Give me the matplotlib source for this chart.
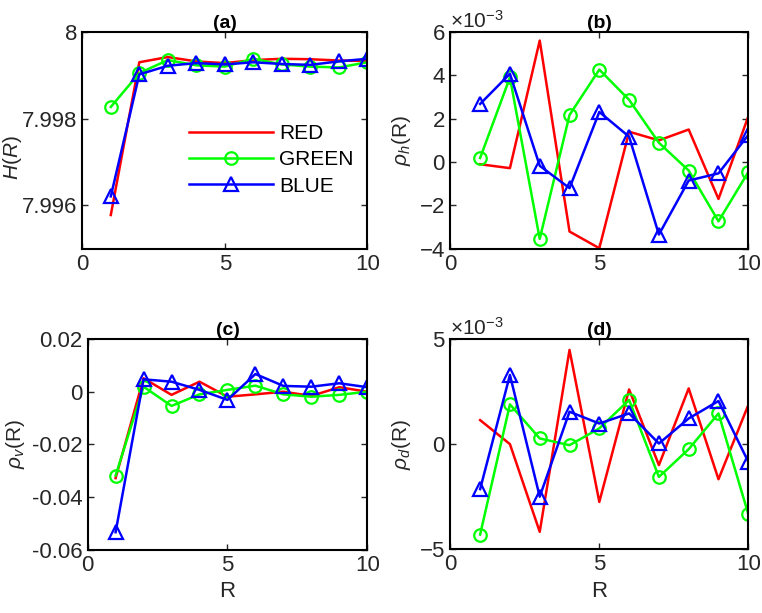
import matplotlib
matplotlib.use('Agg')
import matplotlib.pyplot as plt
from matplotlib.ticker import ScalarFormatter

plt.rcParams['font.family'] = ['Liberation Sans', 'DejaVu Sans']
plt.rcParams['mathtext.fontset'] = 'custom'
plt.rcParams['mathtext.rm'] = 'Liberation Sans'
plt.rcParams['mathtext.it'] = 'Liberation Sans:italic'
plt.rcParams['axes.unicode_minus'] = False

# lag distance R
R = [1, 2, 3, 4, 5, 6, 7, 8, 9, 10]

# (a) entropy H(R)
H_red = [7.99578, 7.99930, 7.99942, 7.99932, 7.99928, 7.99935, 7.99938, 7.99937, 7.99934, 7.99933]
H_green = [7.99827, 7.99905, 7.99935, 7.99923, 7.99920, 7.99938, 7.99925, 7.99920, 7.99918, 7.99930]
H_blue = [7.99621, 7.99902, 7.99922, 7.99928, 7.99925, 7.99930, 7.99926, 7.99924, 7.99932, 7.99938]

# (b) horizontal correlation (x1e-3)
h_red = [-0.1, -0.28, 5.6, -3.2, -3.97, 1.4, 1.0, 1.5, -1.7, 2.1]
h_green = [0.19, 3.9, -3.54, 2.17, 4.26, 2.87, 0.89, -0.39, -2.73, -0.46]
h_blue = [2.68, 4.07, -0.17, -1.2, 2.31, 1.17, -3.34, -0.85, -0.52, 1.25]

# (c) vertical correlation
v_red = [-0.0328, 0.0051, -0.0012, 0.0038, -0.0019, -0.0010, 0.0, -0.0016, 0.0017, 0.0]
v_green = [-0.0318, 0.0019, -0.0054, -0.0010, 0.0007, 0.0023, -0.0010, -0.0019, -0.0012, 0.0]
v_blue = [-0.0533, 0.0047, 0.0038, 0.0007, -0.0031, 0.0067, 0.0022, 0.0019, 0.0032, 0.0017]

# (d) diagonal correlation (x1e-3)
d_red = [1.14, 0.0, -4.17, 4.48, -2.75, 2.6, -1.0, 2.65, -1.67, 1.86]
d_green = [-4.3, 1.89, 0.27, -0.05, 0.75, 2.1, -1.56, -0.24, 1.46, -3.33]
d_blue = [-2.14, 3.29, -2.5, 1.54, 0.98, 1.46, 0.03, 1.22, 2.05, -0.84]

fig = plt.figure(figsize=(7.62, 6.13), dpi=100)
axa = fig.add_axes([0.108, 0.594, 0.374, 0.354])
axb = fig.add_axes([0.591, 0.594, 0.391, 0.354])
axc = fig.add_axes([0.115, 0.103, 0.367, 0.344])
axd = fig.add_axes([0.591, 0.104, 0.391, 0.343])

gray = '#262626'
ms = 9
lw = 1.8

def draw(ax, r, g, b, scale=1.0):
    ax.plot(R, [v * scale for v in r], color='#ff0000', lw=lw, label='RED')
    ax.plot(R, [v * scale for v in g], color='#00ff00', lw=lw, marker='o', ms=ms,
            mfc='none', mew=1.6, label='GREEN')
    ax.plot(R, [v * scale for v in b], color='#0000ff', lw=lw, marker='^', ms=ms + 1,
            mfc='none', mew=1.6, label='BLUE')
    ax.set_xlim(0, 10)
    ax.set_xticks([0, 5, 10])
    ax.tick_params(direction='in', top=True, right=True, labelsize=16,
                   colors=gray, length=4, width=1)
    for s in ax.spines.values():
        s.set_linewidth(1.5)
        s.set_color('black')

draw(axa, H_red, H_green, H_blue)
axa.set_ylim(7.995, 8.0)
axa.set_yticks([7.996, 7.998, 8.0])
axa.set_yticklabels(['7.996', '7.998', '8'])
axa.set_ylabel('$H(R)$', fontsize=15, color=gray)
axa.yaxis.set_label_coords(-0.205, 0.42)
axa.set_title('(a)', fontsize=14, fontweight='bold', pad=3)
axa.legend(loc='center left', bbox_to_anchor=(0.31, 0.41), frameon=False,
           fontsize=15, handlelength=4.0, labelspacing=0.35, handletextpad=0.3)

draw(axb, h_red, h_green, h_blue, 1e-3)
axb.set_ylim(-4e-3, 6e-3)
axb.set_yticks([-4e-3, -2e-3, 0, 2e-3, 4e-3, 6e-3])
axb.set_ylabel(r'$\rho_h$(R)', fontsize=15, color=gray)
axb.set_title('(b)', fontsize=14, fontweight='bold', pad=3)

draw(axc, v_red, v_green, v_blue)
axc.set_ylim(-0.06, 0.02)
axc.set_yticks([-0.06, -0.04, -0.02, 0, 0.02])
axc.set_yticklabels(['-0.06', '-0.04', '-0.02', '0', '0.02'])
axc.set_ylabel(r'$\rho_v$(R)', fontsize=15, color=gray)
axc.set_xlabel('R', fontsize=16, color=gray)
axc.set_title('(c)', fontsize=14, fontweight='bold', pad=3)

draw(axd, d_red, d_green, d_blue, 1e-3)
axd.set_ylim(-5e-3, 5e-3)
axd.set_yticks([-5e-3, 0, 5e-3])
axd.set_ylabel(r'$\rho_d$(R)', fontsize=15, color=gray)
axd.set_xlabel('R', fontsize=16, color=gray)
axd.set_title('(d)', fontsize=14, fontweight='bold', pad=3)

for ax in (axb, axd):
    fmt = ScalarFormatter(useMathText=True)
    fmt.set_powerlimits((-2, 2))
    ax.yaxis.set_major_formatter(fmt)
    ax.yaxis.get_offset_text().set_fontsize(15)
    ax.yaxis.get_offset_text().set_color(gray)

fig.savefig('out.png', dpi=100)
